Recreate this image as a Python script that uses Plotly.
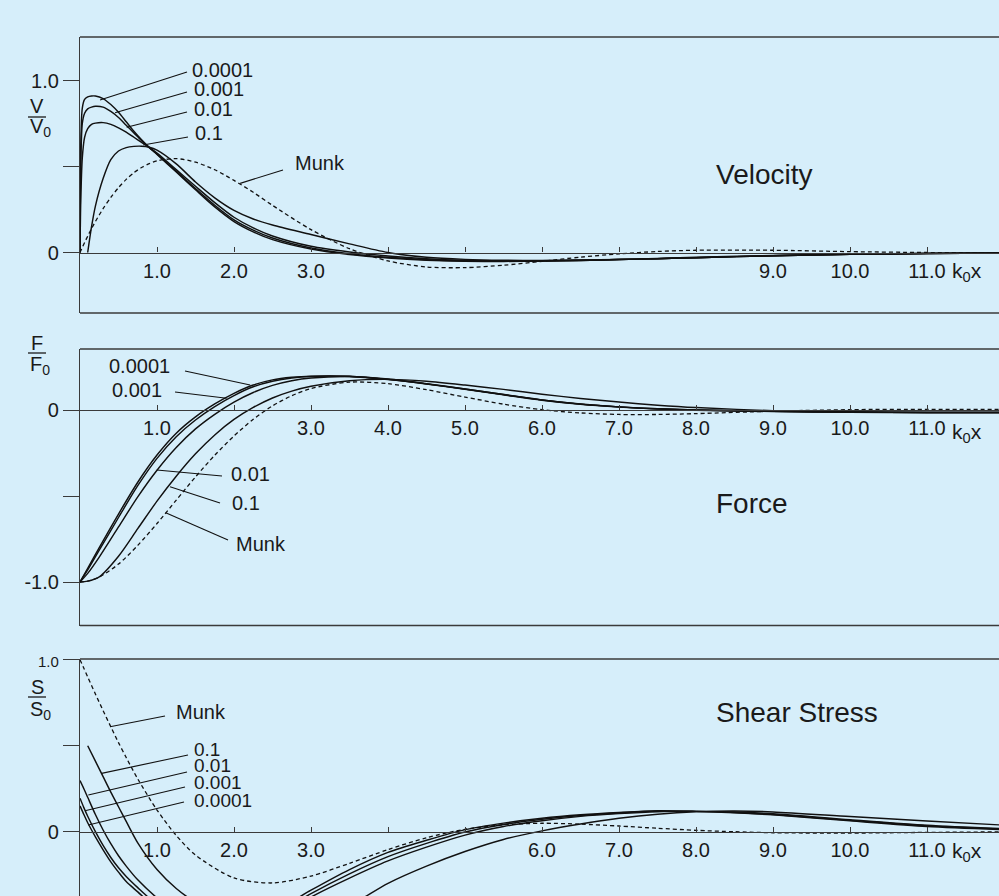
import plotly.graph_objects as go

# ---------------- data ----------------
# Velocity panel  V/V0 versus k0x
xv = [0, 0.01, 0.03, 0.06, 0.1, 0.15, 0.2, 0.3, 0.4, 0.5, 0.6, 0.7, 0.8, 0.9, 1.0,
      1.25, 1.5, 1.75, 2.0, 2.25, 2.5, 3.0, 3.5, 4.0, 4.5, 5.0, 5.5, 6.0, 6.5, 7.0, 7.5,
      8.0, 9.0, 10.0, 11.0, 12.0]
vel_p0001 = [0, 0.62, 0.84, 0.89, 0.905, 0.91, 0.91, 0.895, 0.86, 0.815, 0.76, 0.705, 0.655, 0.61, 0.57,
             0.468, 0.365, 0.265, 0.18, 0.12, 0.075, 0.02, -0.012, -0.032, -0.045, -0.051, -0.052, -0.05, -0.046, -0.041, -0.036,
             -0.03, -0.019, -0.011, -0.006, -0.003]
vel_p001 = [0, 0.5, 0.75, 0.81, 0.835, 0.845, 0.85, 0.845, 0.82, 0.785, 0.74, 0.695, 0.65, 0.61, 0.573,
            0.473, 0.372, 0.275, 0.19, 0.13, 0.084, 0.026, -0.007, -0.028, -0.042, -0.049, -0.051, -0.05, -0.046, -0.041, -0.036,
            -0.03, -0.019, -0.011, -0.006, -0.003]
vel_p01 = [0, 0.3, 0.55, 0.67, 0.72, 0.745, 0.752, 0.755, 0.745, 0.725, 0.7, 0.67, 0.64, 0.61, 0.578,
           0.482, 0.385, 0.29, 0.205, 0.143, 0.096, 0.036, 0.003, -0.02, -0.036, -0.045, -0.048, -0.048, -0.045, -0.041, -0.036,
           -0.03, -0.019, -0.011, -0.006, -0.003]
vel_p1 = [None, None, None, None, 0.0, 0.15, 0.27, 0.43, 0.54, 0.59, 0.61, 0.617, 0.618, 0.612, 0.595,
          0.515, 0.41, 0.318, 0.245, 0.195, 0.16, 0.105, 0.05, 0.0, -0.028, -0.04, -0.045, -0.046, -0.044, -0.04, -0.034,
          -0.028, -0.017, -0.01, -0.005, -0.002]
vel_munk = [0, 0.01, 0.029, 0.058, 0.095, 0.139, 0.18, 0.255, 0.321, 0.377, 0.425, 0.464, 0.494, 0.517, 0.533,
            0.546, 0.525, 0.481, 0.419, 0.35, 0.274, 0.133, 0.022, -0.049, -0.084, -0.088, -0.074, -0.051, -0.027, -0.008, 0.006,
            0.013, 0.013, 0.005, 0.0, -0.002]

# Force panel  F/F0 versus k0x
xf = [0, 0.1, 0.25, 0.5, 0.75, 1.0, 1.25, 1.5, 1.75, 2.0, 2.25, 2.5, 2.75, 3.0, 3.5, 4.0,
      4.5, 5.0, 5.5, 6.0, 6.5, 7.0, 7.5, 8.0, 9.0, 10.0, 11.0, 12.0]
frc_p0001 = [-1, -0.92, -0.8, -0.605, -0.42, -0.262, -0.135, -0.04, 0.035, 0.097, 0.145, 0.175, 0.19, 0.197, 0.196, 0.178,
             0.152, 0.122, 0.09, 0.058, 0.034, 0.018, 0.007, 0.0, -0.008, -0.012, -0.014, -0.015]
frc_p001 = [-1, -0.93, -0.815, -0.625, -0.44, -0.281, -0.155, -0.058, 0.02, 0.084, 0.135, 0.167, 0.186, 0.195, 0.195, 0.177,
            0.151, 0.12, 0.088, 0.057, 0.033, 0.017, 0.006, -0.001, -0.009, -0.013, -0.015, -0.015]
frc_p01 = [-1, -0.95, -0.855, -0.68, -0.505, -0.35, -0.218, -0.11, -0.025, 0.046, 0.102, 0.143, 0.17, 0.186, 0.195, 0.18,
           0.153, 0.122, 0.09, 0.059, 0.035, 0.018, 0.007, 0.0, -0.008, -0.012, -0.014, -0.015]
frc_p1 = [-1, -0.995, -0.97, -0.85, -0.69, -0.53, -0.385, -0.255, -0.145, -0.055, 0.015, 0.07, 0.11, 0.138, 0.17, 0.178,
          0.167, 0.145, 0.12, 0.092, 0.067, 0.046, 0.028, 0.014, -0.004, -0.012, -0.015, -0.015]
frc_munk = [-1, -0.995, -0.971, -0.896, -0.787, -0.66, -0.524, -0.389, -0.263, -0.151, -0.054, 0.024, 0.083, 0.125, 0.162, 0.153,
            0.118, 0.075, 0.034, 0.002, -0.017, -0.026, -0.026, -0.021, -0.007, 0.002, 0.004, 0.003]

# Shear-stress panel  S/S0 versus k0x
xs = [0, 0.05, 0.1, 0.2, 0.3, 0.4, 0.5, 0.6, 0.75, 1.0, 1.25, 1.5, 2.0, 2.5, 3.0, 3.5, 4.0,
      4.5, 5.0, 5.5, 6.0, 6.5, 7.0, 7.5, 8.0, 8.5, 9.0, 10.0, 11.0, 12.0]
shr_p0001 = [0.15, 0.1, 0.052, -0.03, -0.105, -0.175, -0.235, -0.29, -0.35, -0.45, -0.52, -0.56, -0.56, -0.47, -0.34, -0.22, -0.12,
             -0.05, 0.012, 0.05, 0.078, 0.098, 0.112, 0.122, 0.118, 0.11, 0.098, 0.063, 0.03, 0.012]
shr_p001 = [0.195, 0.14, 0.09, 0.0, -0.08, -0.15, -0.21, -0.26, -0.325, -0.425, -0.5, -0.55, -0.57, -0.49, -0.36, -0.245, -0.145,
            -0.068, -0.002, 0.042, 0.072, 0.094, 0.109, 0.12, 0.118, 0.112, 0.1, 0.066, 0.034, 0.015]
shr_p01 = [0.297, 0.25, 0.2, 0.1, 0.01, -0.07, -0.14, -0.2, -0.28, -0.385, -0.47, -0.53, -0.58, -0.51, -0.38, -0.27, -0.17,
           -0.09, -0.02, 0.03, 0.064, 0.089, 0.105, 0.116, 0.118, 0.114, 0.104, 0.07, 0.038, 0.018]
shr_p1 = [None, None, 0.5, 0.41, 0.32, 0.23, 0.145, 0.06, -0.065, -0.22, -0.33, -0.41, -0.52, -0.56, -0.52, -0.43, -0.3,
          -0.2, -0.115, -0.045, 0.005, 0.045, 0.078, 0.102, 0.116, 0.12, 0.115, 0.088, 0.062, 0.038]
shr_munk = [1.0, 0.95, 0.9, 0.801, 0.704, 0.61, 0.518, 0.431, 0.307, 0.126, -0.022, -0.136, -0.269, -0.298, -0.258, -0.184, -0.104,
            -0.035, 0.014, 0.04, 0.049, 0.044, 0.033, 0.02, 0.008, 0.0, -0.006, -0.008, -0.004, -0.001]

x_ticks = [1, 2, 3, 4, 5, 6, 7, 8, 9, 10, 11]
vel_ticktext = ["1.0", "2.0", "3.0", "", "", "", "", "", "9.0", "10.0", "11.0"]
frc_ticktext = ["1.0", "", "3.0", "4.0", "5.0", "6.0", "7.0", "8.0", "9.0", "10.0", "11.0"]
shr_ticktext = ["1.0", "2.0", "3.0", "", "", "6.0", "7.0", "8.0", "9.0", "10.0", "11.0"]

# ---------------- geometry ----------------
W, H = 999, 896
L = 80
PXU = 77.0      # pixels per unit of k0x
YPU = 172.0     # pixels per unit of the ordinate
BG = "#d6eefa"
INK = "#1a1a1a"
AX = "#3a3a3a"
FONT = "Liberation Sans, Arial, Helvetica, sans-serif"


def P(px, py):
    return (px - L) / (W - L), 1 - py / H


panels = {
    # name: (top_px, bottom_px, zero_px)
    "v": (37.0, 313.0, 252.5),
    "f": (349.0, 625.6, 410.0),
    "s": (659.0, 896.0, 831.7),
}

fig = go.Figure()
xr = [0, (W - L) / PXU]

axis_ids = {"v": ("x", "y", ""), "f": ("x2", "y2", "2"), "s": ("x3", "y3", "3")}
ticktexts = {"v": vel_ticktext, "f": frc_ticktext, "s": shr_ticktext}
ytick = {"v": ([0, 0.5, 1.0], ["0", "", "1.0"]),
         "f": ([-1.0, -0.5, 0], ["-1.0", "", "0"]),
         "s": ([0, 0.5, 1.0], ["0", "", "<span style='font-size:15px'>1.0</span>"])}

layout_axes = {}
for name, (top, bot, zero) in panels.items():
    xa, ya, suf = axis_ids[name]
    d0, d1 = 1 - bot / H, 1 - top / H
    r1 = (zero - top) / YPU
    r0 = -(bot - zero) / YPU
    pos = 1 - zero / H
    layout_axes["xaxis" + suf] = dict(
        domain=[0, 1], range=xr, anchor="free", position=pos, side="bottom",
        showline=True, linecolor=AX, linewidth=1.3, showgrid=False, zeroline=False,
        ticks="inside", ticklen=5, tickwidth=1.2, tickcolor=AX,
        tickvals=x_ticks, ticktext=ticktexts[name], automargin=False,
        tickfont=dict(family=FONT, size=20, color=INK), fixedrange=True,
    )
    layout_axes["yaxis" + suf] = dict(
        domain=[d0, d1], range=[r0, r1], anchor=xa,
        showline=True, linecolor=AX, linewidth=1.3, showgrid=False, zeroline=False,
        ticks="outside", ticklen=16, tickwidth=1.2, tickcolor=AX,
        tickvals=ytick[name][0], ticktext=ytick[name][1], automargin=False,
        tickfont=dict(family=FONT, size=20, color=INK), fixedrange=True,
    )


def add(name, x, y, dashed=False):
    xa, ya, _ = axis_ids[name]
    fig.add_trace(go.Scatter(
        x=x, y=y, mode="lines", xaxis=xa, yaxis=ya, showlegend=False,
        line=dict(color="#111111", width=1.3 if dashed else 1.45,
                  dash="4px,3px" if dashed else "solid",
                  shape="spline", smoothing=0.8),
        hoverinfo="skip"))


for ys in (vel_p0001, vel_p001, vel_p01, vel_p1):
    add("v", xv, ys)
add("v", xv, vel_munk, dashed=True)
for ys in (frc_p0001, frc_p001, frc_p01, frc_p1):
    add("f", xf, ys)
add("f", xf, frc_munk, dashed=True)
for ys in (shr_p0001, shr_p001, shr_p01, shr_p1):
    add("s", xs, ys)
add("s", xs, shr_munk, dashed=True)

shapes = []
ann = []


def hline_px(x0, x1, py, width=1.3, color=AX):
    a0, b = P(x0, py)
    a1, _ = P(x1, py)
    shapes.append(dict(type="line", xref="paper", yref="paper", x0=a0, x1=a1, y0=b, y1=b,
                       line=dict(color=color, width=width)))


# panel frames (top and bottom edges; the right edge lies outside the picture)
for name, (top, bot, zero) in panels.items():
    hline_px(L, W + 5, top, 1.5)
    if bot < H:
        hline_px(L, W + 5, bot, 1.5)


def leader(name, cx, cy, tx_px, ty_px):
    # leader line from a point on a curve (data coords) to the label (pixels)
    xa, ya, _ = axis_ids[name]
    top, bot, zero = panels[name]
    tx = (tx_px - L) / PXU
    ty = (zero - ty_px) / YPU
    shapes.append(dict(type="line", xref=xa, yref=ya, x0=cx, y0=cy, x1=tx, y1=ty,
                       line=dict(color="#111111", width=1.1)))


def text_px(s, px, py, size=20, anchor="left"):
    a, b = P(px, py)
    ann.append(dict(text=s, x=a, y=b, xref="paper", yref="paper", showarrow=False,
                    xanchor=anchor, yanchor="middle",
                    font=dict(family=FONT, size=size, color=INK)))


# velocity labels
leader("v", 0.26, 0.887, 187, 72)
leader("v", 0.455, 0.813, 187, 92)
leader("v", 0.606, 0.728, 187, 112)
leader("v", 0.82, 0.625, 188, 137)
leader("v", 2.08, 0.402, 283, 170)
text_px("0.0001", 190, 70)
text_px("0.001", 192, 89)
text_px("0.01", 192, 109)
text_px("0.1", 193, 133)
text_px("Munk", 293, 163)

# force labels
leader("f", 2.21, 0.145, 185, 371)
leader("f", 1.905, 0.068, 175, 392)
leader("f", 0.996, -0.349, 222, 476)
leader("f", 1.169, -0.446, 220, 503)
leader("f", 1.113, -0.597, 228, 540)
text_px("0.0001", 107, 366)
text_px("0.001", 110, 390)
text_px("0.01", 229, 474)
text_px("0.1", 230, 503)
text_px("Munk", 234, 544)

# shear labels
leader("s", 0.39, 0.61, 165, 716)
leader("s", 0.28, 0.339, 188, 755)
leader("s", 0.108, 0.213, 187, 772)
leader("s", 0.065, 0.122, 185, 787)
leader("s", 0.108, 0.039, 184, 802)
text_px("Munk", 174, 712)
text_px("0.1", 192, 749, size=19)
text_px("0.01", 192, 765, size=19)
text_px("0.001", 192, 782, size=19)
text_px("0.0001", 192, 800, size=19)

# panel titles
text_px("Velocity", 714, 174, size=28)
text_px("Force", 714, 503, size=28)
text_px("Shear Stress", 714, 712, size=28)

# k0x axis names
for py in (272, 433, 852):
    text_px("k<sub>0</sub>x", 950, py, size=21)

# ordinate fractions
for letter, (cy_top, cy_line, cy_bot) in {"V": (106, 117, 128), "F": (343, 353, 366), "S": (687, 697, 710)}.items():
    text_px(letter, 37, cy_top, size=20, anchor="center")
    hline_px(28, 46, cy_line, 1.3, INK)
    text_px(letter + "<sub>0</sub>", 40, cy_bot, size=20, anchor="center")

fig.update_layout(
    width=W, height=H, margin=dict(l=L, r=0, t=0, b=0, pad=0, autoexpand=False),
    paper_bgcolor=BG, plot_bgcolor=BG, showlegend=False,
    shapes=shapes, annotations=ann, **layout_axes,
)

fig.write_html("out.html")
